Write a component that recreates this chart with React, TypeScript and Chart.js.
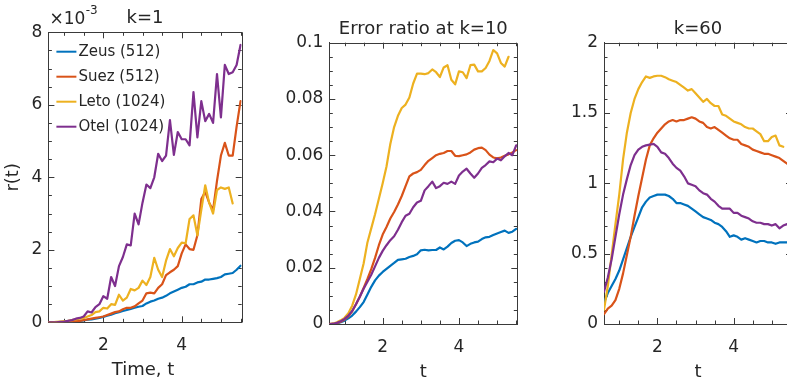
import React, { useEffect, useRef } from "react";
import { Chart, registerables } from "chart.js";

Chart.register(...registerables);

const FONT = "'DejaVu Sans', 'Noto Sans', sans-serif";
const TEXT = "#262626";
const AXIS = "#3a3a3a";

const times = [
  0.6, 0.7, 0.8, 0.9, 1.0, 1.1, 1.2, 1.3, 1.4, 1.5,
  1.6, 1.7, 1.8, 1.9, 2.0, 2.1, 2.2, 2.3, 2.4, 2.5,
  2.6, 2.7, 2.8, 2.9, 3.0, 3.1, 3.2, 3.3, 3.4, 3.5,
  3.6, 3.7, 3.8, 3.9, 4.0, 4.1, 4.2, 4.3, 4.4, 4.5,
  4.6, 4.7, 4.8, 4.9, 5.0, 5.1, 5.2, 5.3, 5.4, 5.5,
];

const seriesNames = ["Zeus (512)", "Suez (512)", "Leto (1024)", "Otel (1024)"];
const seriesColors = ["#0072BD", "#D95319", "#EDB120", "#7E2F8E"];

// k = 1 (values in units of 1e-3)
const k1Zeus = [
  0, 0, 0, 0, 0, 0.01, 0.02, 0.03, 0.04, 0.05,
  0.07, 0.08, 0.1, 0.12, 0.15, 0.18, 0.21, 0.25, 0.28, 0.31,
  0.34, 0.37, 0.4, 0.43, 0.45, 0.52, 0.57, 0.6, 0.65, 0.68,
  0.73, 0.8, 0.85, 0.9, 0.95, 0.98, 1.05, 1.05, 1.1, 1.12,
  1.18, 1.18, 1.2, 1.22, 1.25, 1.32, 1.34, 1.36, 1.45, 1.56,
];
const k1Suez = [
  0, 0, 0, 0, 0, 0.01, 0.02, 0.03, 0.04, 0.06,
  0.08, 0.1, 0.12, 0.14, 0.16, 0.2, 0.24, 0.28, 0.3, 0.36,
  0.4, 0.4, 0.44, 0.52, 0.6, 0.8, 0.82, 0.8, 0.95, 1.05,
  1.3, 1.38, 1.45, 1.55, 1.9, 2.15, 2.02, 2.0, 2.4, 3.4,
  3.6, 3.3, 3.1, 3.9, 4.6, 4.95, 4.6, 4.6, 5.4, 6.1,
];
const k1Leto = [
  0, 0, 0.01, 0.02, 0.03, 0.04, 0.06, 0.08, 0.1, 0.12,
  0.16, 0.2, 0.28, 0.3, 0.4, 0.38, 0.5, 0.48, 0.76, 0.6,
  0.68, 0.92, 0.88, 0.95, 1.15, 1.03, 1.25, 1.78, 1.45, 1.25,
  1.7, 2.02, 1.82, 2.05, 2.2, 2.18, 2.85, 2.95, 2.4, 3.1,
  3.78, 3.3, 3.0, 3.65, 3.72, 3.68, 3.72, 3.28,
];
const k1Otel = [
  0, 0, 0, 0.01, 0.02, 0.04, 0.06, 0.1, 0.12, 0.16,
  0.3, 0.27, 0.42, 0.5, 0.72, 0.65, 1.25, 1.0, 1.55, 1.8,
  2.15, 2.12, 3.0, 2.7, 3.3, 3.8, 3.7, 4.0, 4.65, 4.45,
  4.6, 5.58, 4.62, 5.25, 5.05, 5.05, 4.88, 6.35, 5.1, 6.1,
  5.55, 5.75, 5.5, 6.85, 5.65, 7.1, 6.85, 6.9, 7.1, 7.65,
];

// k = 10
const k10Zeus = [
  0, 0, 0.0002, 0.0006, 0.0012, 0.002, 0.003, 0.0044, 0.006, 0.0078,
  0.0105, 0.0132, 0.0155, 0.0172, 0.0185, 0.0196, 0.0207, 0.0217, 0.0228, 0.023,
  0.0232, 0.0238, 0.0242, 0.0248, 0.0262, 0.0264, 0.0262, 0.0263, 0.0263, 0.0272,
  0.0265, 0.0275, 0.0288, 0.0296, 0.0298, 0.029, 0.0277, 0.0285, 0.029, 0.0293,
  0.0302, 0.0308, 0.031, 0.0316, 0.0322, 0.0327, 0.0332, 0.0324, 0.0328, 0.0338,
];
const k10Suez = [
  0, 0, 0.0003, 0.0008, 0.0016, 0.0027, 0.0045, 0.007, 0.0097, 0.0128,
  0.016, 0.0195, 0.0235, 0.028, 0.0318, 0.0345, 0.0375, 0.0398, 0.0425, 0.0455,
  0.049, 0.0525, 0.0535, 0.054, 0.0548, 0.0565, 0.058, 0.059, 0.06, 0.0605,
  0.0608, 0.0615, 0.0615, 0.0598, 0.0597, 0.06, 0.0603, 0.061, 0.062, 0.0625,
  0.0627, 0.0618, 0.0602, 0.0592, 0.0589, 0.0592, 0.0598, 0.0603, 0.061, 0.0618,
];
const k10Leto = [
  0, 0.0002, 0.0006, 0.0013, 0.0022, 0.0038, 0.0065, 0.0105, 0.016, 0.0215,
  0.029, 0.034, 0.039, 0.0445, 0.05, 0.056, 0.064, 0.07, 0.074, 0.0768,
  0.078, 0.0805, 0.0855, 0.089, 0.089, 0.0888, 0.0892, 0.0905, 0.0895, 0.0878,
  0.0912, 0.092, 0.0868, 0.0852, 0.0898, 0.0895, 0.0874, 0.092, 0.0922, 0.0898,
  0.0898, 0.091, 0.0935, 0.0974, 0.0962, 0.0928, 0.0915, 0.095,
];
const k10Otel = [
  0, 0.0001, 0.0004, 0.001, 0.0018, 0.003, 0.0046, 0.007, 0.0097, 0.0125,
  0.015, 0.0175, 0.0205, 0.0235, 0.026, 0.028, 0.0298, 0.0312, 0.0335, 0.0362,
  0.0385, 0.0392, 0.0415, 0.0432, 0.0438, 0.0475, 0.049, 0.0506, 0.0483, 0.049,
  0.0502, 0.0498, 0.0506, 0.0498, 0.0528, 0.0542, 0.0552, 0.0535, 0.052, 0.0535,
  0.0555, 0.0565, 0.0578, 0.0575, 0.0588, 0.0582, 0.0596, 0.0608, 0.06, 0.0635,
];

// k = 60
const k60Zeus = [
  0.15, 0.22, 0.27, 0.32, 0.38, 0.46, 0.54, 0.62, 0.69, 0.76,
  0.83, 0.87, 0.9, 0.91, 0.92, 0.92, 0.92, 0.91, 0.89, 0.86,
  0.86, 0.85, 0.84, 0.82, 0.8, 0.78, 0.76, 0.75, 0.74, 0.72,
  0.71, 0.69, 0.66, 0.62, 0.63, 0.62, 0.6, 0.61, 0.6, 0.59,
  0.58, 0.59, 0.59, 0.58, 0.58, 0.57, 0.58, 0.58, 0.58, 0.59,
];
const k60Suez = [
  0.07, 0.11, 0.13, 0.17, 0.25, 0.36, 0.49, 0.62, 0.77, 0.91,
  1.04, 1.17, 1.27, 1.32, 1.36, 1.39, 1.42, 1.44, 1.45, 1.44,
  1.45, 1.45, 1.46, 1.47, 1.46, 1.44, 1.43, 1.4, 1.39, 1.4,
  1.38, 1.36, 1.34, 1.32, 1.31, 1.31, 1.28, 1.27, 1.26, 1.24,
  1.23, 1.22, 1.21, 1.21, 1.2, 1.19, 1.18, 1.16, 1.14, 1.13,
];
const k60Leto = [
  0.1, 0.27, 0.49, 0.71, 0.92, 1.17, 1.36, 1.5, 1.6, 1.67,
  1.72, 1.76, 1.75, 1.76, 1.765, 1.765, 1.755, 1.74, 1.73, 1.72,
  1.7, 1.68, 1.66, 1.67, 1.64, 1.61, 1.58, 1.6, 1.57, 1.55,
  1.55, 1.49, 1.48, 1.46, 1.44, 1.43, 1.42, 1.4, 1.39, 1.39,
  1.37, 1.35, 1.3, 1.3, 1.33, 1.34, 1.27, 1.26,
];
const k60Otel = [
  0.23, 0.33, 0.46, 0.62, 0.78, 0.92, 1.03, 1.13, 1.2, 1.24,
  1.26, 1.27, 1.275, 1.28, 1.26, 1.22, 1.21, 1.18, 1.14, 1.11,
  1.09, 1.05, 1.0, 0.99, 0.98, 0.95, 0.93, 0.92, 0.89, 0.87,
  0.84, 0.82, 0.82, 0.82, 0.79, 0.79, 0.77, 0.76, 0.75, 0.73,
  0.72, 0.72, 0.71, 0.71, 0.7, 0.71, 0.68, 0.7, 0.71, 0.72,
];

const xTickValues = [2, 4];
const k1YTicks = [0, 2, 4, 6, 8];
const k10YTicks = [0, 0.02, 0.04, 0.06, 0.08, 0.1];
const k60YTicks = [0, 0.5, 1, 1.5, 2];

const X_MIN = 0.6;
const X_MAX = 5.53;
const H = 384;

type Spec = {
  canvasLeft: number;
  canvasWidth: number;
  area: { left: number; right: number; top: number; bottom: number };
  yMin: number;
  yMax: number;
  yTicks: number[];
  yMinorStep: number;
  series: number[][];
  title: string;
  xTitle: string;
  yTitle?: string;
  exponent?: boolean;
  legend?: boolean;
};

const specs: Spec[] = [
  {
    canvasLeft: 0,
    canvasWidth: 250,
    area: { left: 48.4, right: 241.7, top: 32.3, bottom: 322.3 },
    yMin: 0,
    yMax: 8,
    yTicks: k1YTicks,
    yMinorStep: 0.5,
    series: [k1Zeus, k1Suez, k1Leto, k1Otel],
    title: "k=1",
    xTitle: "Time, t",
    yTitle: "r(t)",
    exponent: true,
    legend: true,
  },
  {
    canvasLeft: 260,
    canvasWidth: 270,
    area: { left: 329.3, right: 517.3, top: 42.7, bottom: 324 },
    yMin: 0,
    yMax: 0.1,
    yTicks: k10YTicks,
    yMinorStep: 0.005,
    series: [k10Zeus, k10Suez, k10Leto, k10Otel],
    title: "Error ratio at k=10",
    xTitle: "t",
  },
  {
    canvasLeft: 530,
    canvasWidth: 270,
    area: { left: 604, right: 792, top: 42.7, bottom: 324 },
    yMin: 0,
    yMax: 2,
    yTicks: k60YTicks,
    yMinorStep: 0.1,
    series: [k60Zeus, k60Suez, k60Leto, k60Otel],
    title: "k=60",
    xTitle: "t",
  },
];

function fmt(v: number) {
  return String(Number(v.toFixed(6)));
}

function makePlugin(spec: Spec) {
  return {
    id: "matlabFrame",
    beforeDatasetsDraw(chart: any) {
      const { ctx, chartArea } = chart;
      const { left, right, top, bottom } = chartArea;
      const xs = chart.scales.x;
      const ys = chart.scales.y;
      const al = (v: number) => Math.round(v) + 0.5;
      ctx.save();
      ctx.strokeStyle = AXIS;
      ctx.lineWidth = 1;
      ctx.beginPath();
      ctx.moveTo(al(left), al(top));
      ctx.lineTo(al(right), al(top));
      ctx.lineTo(al(right), al(bottom));
      ctx.stroke();
      const major = 6;
      const minor = 3.5;
      for (let v = 1; v <= X_MAX + 1e-9; v += 0.5) {
        const isMajor = xTickValues.some((t) => Math.abs(t - v) < 1e-9);
        const len = isMajor ? major : minor;
        const px = al(xs.getPixelForValue(v));
        ctx.beginPath();
        ctx.moveTo(px, bottom);
        ctx.lineTo(px, bottom - len);
        ctx.moveTo(px, top);
        ctx.lineTo(px, top + len);
        ctx.stroke();
      }
      const n = Math.round((spec.yMax - spec.yMin) / spec.yMinorStep);
      for (let i = 1; i < n; i++) {
        const v = spec.yMin + i * spec.yMinorStep;
        const isMajor = spec.yTicks.some((t) => Math.abs(t - v) < spec.yMinorStep * 1e-3);
        const len = isMajor ? major : minor;
        const py = al(ys.getPixelForValue(v));
        ctx.beginPath();
        ctx.moveTo(left, py);
        ctx.lineTo(left + len, py);
        ctx.moveTo(right, py);
        ctx.lineTo(right - len, py);
        ctx.stroke();
      }
      ctx.restore();
    },
    afterDraw(chart: any) {
      const { ctx, chartArea } = chart;
      const { left, right, top, bottom } = chartArea;
      const cx = (left + right) / 2;
      ctx.save();
      ctx.fillStyle = TEXT;
      ctx.font = `18px ${FONT}`;
      ctx.textAlign = "center";
      ctx.textBaseline = "alphabetic";
      ctx.fillText(spec.title, cx, top - 9.2);
      ctx.fillText(spec.xTitle, cx - (spec.yTitle ? 2 : 0), bottom + 52.5);
      if (spec.exponent) {
        ctx.textAlign = "left";
        ctx.font = `17px ${FONT}`;
        const base = "\u00d710";
        ctx.fillText(base, left + 1, top - 8.5);
        const w = ctx.measureText(base).width;
        ctx.font = `12px ${FONT}`;
        ctx.fillText("-3", left + 1 + w + 0.5, top - 18.5);
      }
      if (spec.yTitle) {
        ctx.font = `18px ${FONT}`;
        ctx.save();
        ctx.translate(13, (top + bottom) / 2);
        ctx.rotate(-Math.PI / 2);
        ctx.textAlign = "center";
        ctx.textBaseline = "middle";
        ctx.fillText(spec.yTitle, 0, 0);
        ctx.restore();
      }
      if (spec.legend) {
        ctx.font = `15px ${FONT}`;
        ctx.textAlign = "left";
        ctx.textBaseline = "middle";
        seriesNames.forEach((name, i) => {
          const y = top + 19.4 + i * 25;
          ctx.strokeStyle = seriesColors[i];
          ctx.lineWidth = 2;
          ctx.beginPath();
          ctx.moveTo(left + 8, y);
          ctx.lineTo(left + 28, y);
          ctx.stroke();
          ctx.fillStyle = TEXT;
          ctx.fillText(name, left + 30, y + 0.5);
        });
      }
      ctx.restore();
    },
  };
}

function Panel({ spec }: { spec: Spec }) {
  const ref = useRef<HTMLCanvasElement>(null);
  useEffect(() => {
    const canvas = ref.current;
    if (!canvas) return;
    const datasets = spec.series.map((vals, i) => ({
      label: seriesNames[i],
      data: vals.map((v, j) => ({ x: times[j], y: v })),
      borderColor: seriesColors[i],
      backgroundColor: seriesColors[i],
      borderWidth: 2.2,
      pointRadius: 0,
      tension: 0,
      borderJoinStyle: "round" as const,
      borderCapStyle: "round" as const,
      order: 3 - i,
    }));
    const tickFont = { family: FONT, size: 17 };
    const chart = new Chart(canvas, {
      type: "line",
      data: { datasets },
      options: {
        responsive: false,
        animation: false,
        devicePixelRatio: 1,
        layout: {
          padding: {
            top: spec.area.top,
            right: spec.canvasLeft + spec.canvasWidth - spec.area.right,
            left: 0,
            bottom: 0,
          },
        },
        plugins: {
          legend: { display: false },
          title: { display: false },
          tooltip: { enabled: false },
        },
        scales: {
          x: {
            type: "linear",
            min: X_MIN,
            max: X_MAX,
            grid: { display: false, drawTicks: false },
            border: { display: true, color: AXIS, width: 1 },
            ticks: {
              font: tickFont,
              color: TEXT,
              padding: 13,
              maxRotation: 0,
              autoSkip: false,
              callback: (v: any) => fmt(Number(v)),
            },
            afterBuildTicks: (s: any) => {
              s.ticks = xTickValues.map((v) => ({ value: v }));
            },
            afterFit: (s: any) => {
              s.height = H - spec.area.bottom;
            },
          },
          y: {
            type: "linear",
            min: spec.yMin,
            max: spec.yMax,
            grid: { display: false, drawTicks: false },
            border: { display: true, color: AXIS, width: 1 },
            ticks: {
              font: tickFont,
              color: TEXT,
              padding: 6,
              autoSkip: false,
              callback: (v: any) => fmt(Number(v)),
            },
            afterBuildTicks: (s: any) => {
              s.ticks = spec.yTicks.map((v) => ({ value: v }));
            },
            afterFit: (s: any) => {
              s.width = spec.area.left - spec.canvasLeft;
            },
          },
        },
      } as any,
      plugins: [makePlugin(spec)],
    });
    return () => chart.destroy();
  }, [spec]);
  return (
    <canvas
      ref={ref}
      width={spec.canvasWidth}
      height={H}
      style={{
        position: "absolute",
        left: spec.canvasLeft,
        top: 0,
        width: spec.canvasWidth,
        height: H,
      }}
    />
  );
}

export default function App() {
  return (
    <div
      style={{
        position: "fixed",
        left: 0,
        top: 0,
        width: 787,
        height: H,
        overflow: "hidden",
        background: "#ffffff",
      }}
    >
      {specs.map((s, i) => (
        <Panel key={i} spec={s} />
      ))}
    </div>
  );
}
